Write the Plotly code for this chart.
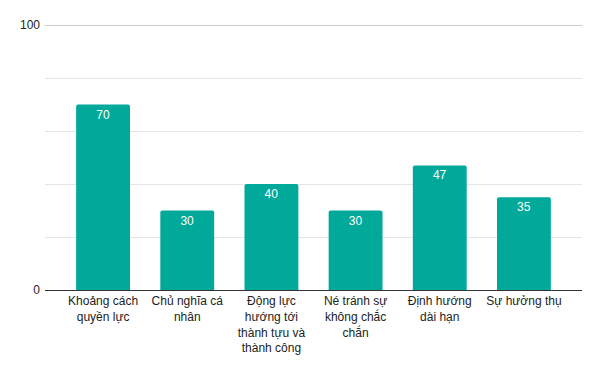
import plotly.graph_objects as go

categories = [
    "Khoảng cách<br>quyền lực",
    "Chủ nghĩa cá<br>nhân",
    "Động lực<br>hướng tới<br>thành tựu và<br>thành công",
    "Né tránh sự<br>không chắc<br>chắn",
    "Định hướng<br>dài hạn",
    "Sự hưởng thụ",
]
values = [70, 30, 40, 30, 47, 35]

fig = go.Figure(
    go.Bar(
        x=list(range(len(categories))),
        y=values,
        text=[str(v) for v in values],
        textposition="inside",
        insidetextanchor="end",
        textfont=dict(color="white", size=12, family="Liberation Sans, Arial"),
        marker=dict(color="#00A99A", cornerradius=2, line=dict(width=0)),
        width=0.64,
        hoverinfo="skip",
    )
)

fig.update_layout(
    width=600,
    height=371,
    margin=dict(l=45, r=18, t=24, b=81),
    paper_bgcolor="white",
    plot_bgcolor="white",
    showlegend=False,
    font=dict(family="Liberation Sans, Arial", size=12, color="#222222"),
    xaxis=dict(
        tickmode="array",
        tickvals=list(range(len(categories))),
        ticktext=categories,
        range=[-0.69, len(categories) - 0.31],
        showgrid=False,
        showline=True,
        linecolor="#333333",
        linewidth=1,
        ticks="",
        tickfont=dict(size=12, color="#222222"),
        fixedrange=True,
    ),
    yaxis=dict(
        range=[0, 100.4],
        tickvals=[0, 100],
        showgrid=True,
        gridcolor="#cccccc",
        gridwidth=1,
        zeroline=False,
        showline=False,
        ticks="",
        ticklabelstandoff=4,
        tickfont=dict(size=12, color="#222222"),
        minor=dict(dtick=20, ticks="", showgrid=True, gridcolor="#e5e5e5", gridwidth=1),
        fixedrange=True,
    ),
)

fig.write_html("out.html")
